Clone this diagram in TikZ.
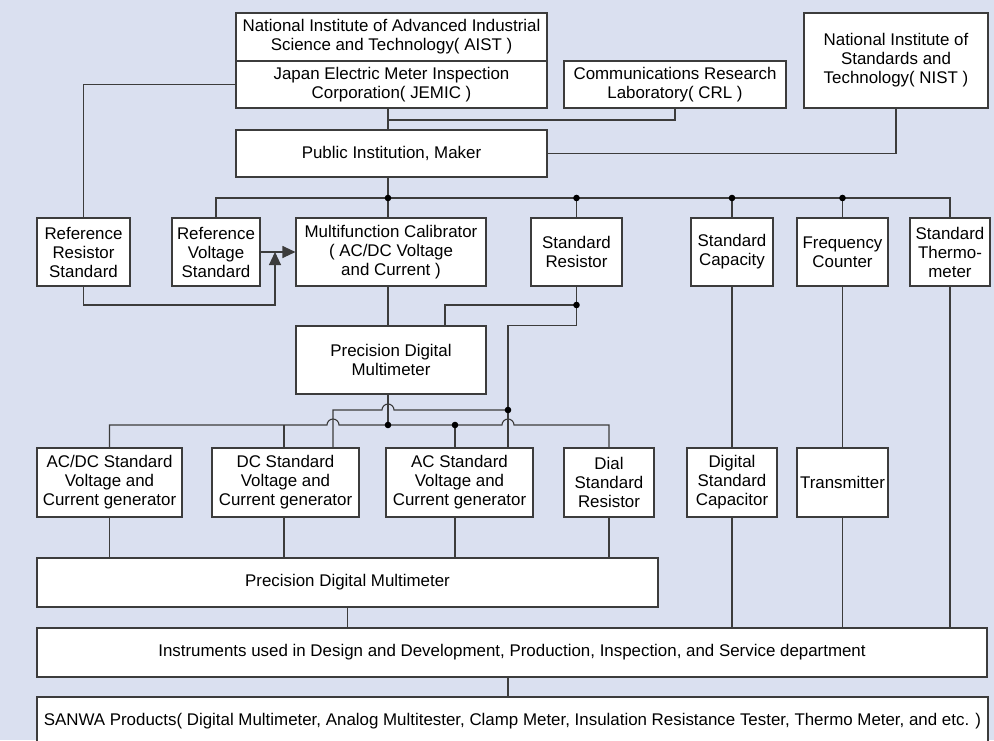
\documentclass[tikz,border=0pt]{standalone}
\usepackage{fontspec}
\setmainfont{Liberation Sans}
\usetikzlibrary{arrows.meta,calc}
\definecolor{pagebg}{HTML}{DAE0F0}
\definecolor{linec}{HTML}{3C3C3C}
\begin{document}
\begin{tikzpicture}[x=1pt,y=-1pt,
  box/.style={draw=linec, fill=white, line width=1.1pt, align=center, inner sep=2pt,
              font=\fontsize{16.9}{19}\selectfont, text=black},
  wire/.style={draw=linec, line width=1.1pt},
  arrowtip/.style={-{Triangle[length=13pt,width=12pt]}},
  dot/.style={fill=black, radius=3.3pt}]
\useasboundingbox (0,0) rectangle (994,740);
\clip (0,0) rectangle (994,740);
\fill[pagebg] (0,0) rectangle (994,740);

% institutions
\node[box, minimum width=311pt, minimum height=48pt] (aist) at (391.5,37)
  {National Institute of Advanced Industrial\\Science and Technology( AIST )};
\node[box, minimum width=311pt, minimum height=47pt] (jemic) at (391.5,84.5)
  {Japan Electric Meter Inspection\\Corporation( JEMIC )};
\node[box, minimum width=222pt, minimum height=47pt] (crl) at (675,84.5)
  {Communications Research\\Laboratory( CRL )};
\node[box, minimum width=184pt, minimum height=95pt] (nist) at (896,60.5)
  {National Institute of\\Standards and\\Technology( NIST )};
\node[box, minimum width=311pt, minimum height=47pt] (pub) at (391.5,153.5)
  {Public Institution, Maker};

% reference standards
\node[box, minimum width=93pt, minimum height=68pt] (rrs) at (83.5,252) {Reference\\Resistor\\Standard};
\node[box, minimum width=88pt, minimum height=68pt] (rvs) at (216,252) {Reference\\Voltage\\Standard};
\node[box, minimum width=190pt, minimum height=68pt] (mfc) at (391,252) {Multifunction Calibrator\\( AC/DC Voltage\\and Current )};
\node[box, minimum width=91pt, minimum height=68pt] (sr) at (576.5,252) {Standard\\Resistor};
\node[box, minimum width=82pt, minimum height=68pt] (scap) at (732,252) {Standard\\Capacity};
\node[box, minimum width=91pt, minimum height=68pt] (fc) at (842.5,252) {Frequency\\Counter};
\node[box, minimum width=80pt, minimum height=68pt] (sth) at (950,252) {Standard\\Thermo-\\meter};
\node[box, minimum width=190pt, minimum height=68pt] (pdm1) at (391,360) {Precision Digital\\Multimeter};

% working standards
\node[box, minimum width=145pt, minimum height=69pt] (acdc) at (109.5,482.5) {AC/DC Standard\\Voltage and\\Current generator};
\node[box, minimum width=147pt, minimum height=69pt] (dcs) at (285.5,482.5) {DC Standard\\Voltage and\\Current generator};
\node[box, minimum width=147pt, minimum height=69pt] (acs) at (459.5,482.5) {AC Standard\\Voltage and\\Current generator};
\node[box, minimum width=90pt, minimum height=69pt] (dial) at (609,482.5) {Dial\\Standard\\Resistor};
\node[box, minimum width=90pt, minimum height=69pt] (dsc) at (732,482.5) {Digital\\Standard\\Capacitor};
\node[box, minimum width=91pt, minimum height=69pt] (trans) at (842.5,482.5) {Transmitter};
\node[box, minimum width=621pt, minimum height=49pt] (pdm2) at (347.5,582.5) {Precision Digital Multimeter};
\node[box, minimum width=950pt, minimum height=49pt] (inst) at (512,652.5)
  {Instruments used in Design and Development, Production, Inspection, and Service department};
\node[box, minimum width=951pt, minimum height=48pt] (sanwa) at (512.5,721)
  {SANWA Products( Digital Multimeter, Analog Multitester, Clamp Meter, Insulation Resistance Tester, Thermo Meter, and etc. )};

% routing columns and rows
\coordinate (xa) at (388,0);
\coordinate (xb) at (445,0);
\coordinate (xc) at (508,0);
\coordinate (xd) at (333,0);
\coordinate (xe) at (284,0);
\coordinate (xf) at (455,0);
\coordinate (xg) at (275,0);
\coordinate (xs) at (508,0);
\coordinate (ya) at (0,120);
\coordinate (bus) at (0,198);
\coordinate (yb) at (0,305);
\coordinate (yw) at (0,410);
\coordinate (yl) at (0,425);

% upper tier
\draw[wire] (xa |- jemic.south) -- (xa |- pub.north);
\draw[wire] (crl.south) |- (xa |- ya);
\draw[wire] (nist.south) |- (pub.east);
\draw[wire] (jemic.west) -| (rrs.north);
\draw[wire] (rvs.north) |- (sth.north |- bus) -- (sth.north);
\draw[wire] (xa |- pub.south) -- (xa |- mfc.north);
\draw[wire] (sr.north |- bus) -- (sr.north);
\draw[wire] (scap.north |- bus) -- (scap.north);
\draw[wire] (fc.north |- bus) -- (fc.north);

% calibrator inputs
\draw[wire, arrowtip] (rvs.east) -- (mfc.west);
\draw[wire, arrowtip] (rrs.south) |- (xg |- yb) -- (xg |- rvs.east);

% calibrator and standard resistor to the multimeter
\draw[wire] (xa |- mfc.south) -- (xa |- pdm1.north);
\draw[wire] (sr.south) -- (sr.south |- yb) -| (xb |- pdm1.north);
\draw[wire] (sr.south |- yb) -- (sr.south |- pdm1.north) -| (xc |- yw);

% standard resistor branch with a hop over the multimeter lead
\draw[wire] (xc |- yw) -- ($(xa |- yw)+(6pt,0)$) arc[start angle=0, end angle=180, radius=6pt]
  -- (xd |- yw) -- (xd |- dcs.north);
\draw[wire] (xc |- yw) -- (xc |- acs.north);

% multimeter bus with hops
\draw[wire] (acdc.north) |- ($(xd |- yl)+(-6pt,0)$) arc[start angle=180, end angle=0, radius=6pt]
  -- ($(xc |- yl)+(-6pt,0)$) arc[start angle=180, end angle=0, radius=6pt] -| (dial.north);
\draw[wire] (xa |- pdm1.south) -- (xa |- yl);
\draw[wire] (xe |- yl) -- (xe |- dcs.north);
\draw[wire] (xf |- yl) -- (xf |- acs.north);

% down to the second multimeter and the departments
\draw[wire] (acdc.south) -- (acdc.south |- pdm2.north);
\draw[wire] (xe |- dcs.south) -- (xe |- pdm2.north);
\draw[wire] (xf |- acs.south) -- (xf |- pdm2.north);
\draw[wire] (dial.south) -- (dial.south |- pdm2.north);
\draw[wire] (scap.south) -- (dsc.north);
\draw[wire] (fc.south) -- (trans.north);
\draw[wire] (dsc.south) -- (dsc.south |- inst.north);
\draw[wire] (trans.south) -- (trans.south |- inst.north);
\draw[wire] (sth.south) -- (sth.south |- inst.north);
\draw[wire] (pdm2.south) -- (pdm2.south |- inst.north);
\draw[wire] (xs |- inst.south) -- (xs |- sanwa.north);

% junction dots
\foreach \p in {(xa |- bus), (sr.north |- bus), (scap.north |- bus), (fc.north |- bus),
                (sr.south |- yb), (xc |- yw), (xa |- yl), (xf |- yl)}
  \fill[dot] \p circle[radius=3.3pt];
\end{tikzpicture}
\end{document}
